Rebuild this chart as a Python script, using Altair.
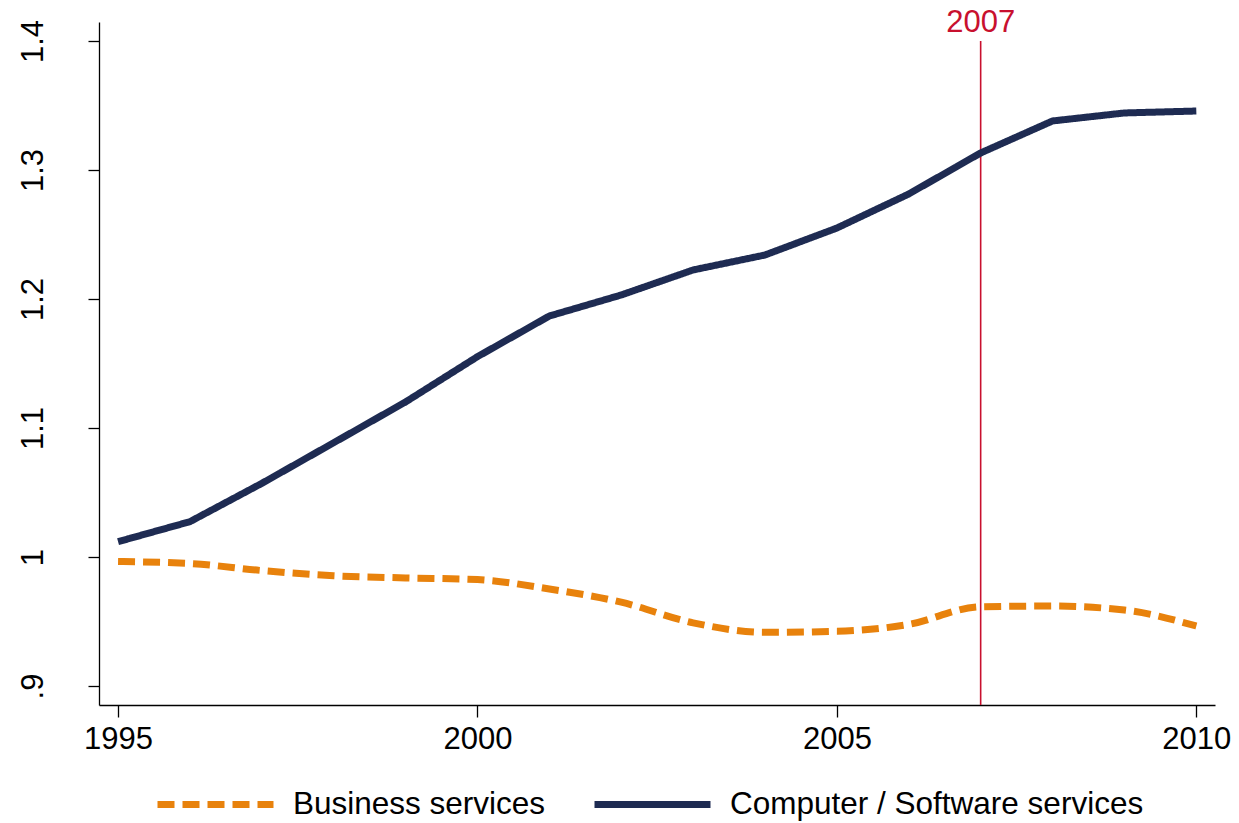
import altair as alt
import pandas as pd

years = [1995, 1996, 1997, 1998, 1999, 2000, 2001, 2002, 2003, 2004, 2005, 2006, 2007, 2008, 2009, 2010]
business = [0.9965, 0.9950, 0.9895, 0.9855, 0.9838, 0.9825, 0.9752, 0.9650, 0.9490, 0.9416, 0.9424, 0.9478, 0.9615, 0.9620, 0.9589, 0.9465]
computer = [1.0119, 1.0274, 1.0571, 1.0886, 1.1202, 1.1553, 1.1868, 1.2031, 1.2225, 1.2341, 1.2550, 1.2814, 1.3132, 1.3380, 1.3442, 1.3457]
series_names = ["Business services", "Computer / Software services"]
series_colors = ["#e8820c", "#1e2b52"]
x_ticks = [1995, 2000, 2005, 2010]
y_ticks = [0.9, 1.0, 1.1, 1.2, 1.3, 1.4]
event_year = [2007]

FONT = "Liberation Sans"

df = pd.DataFrame({
    "year": years * 2,
    "value": business + computer,
    "series": [series_names[0]] * len(years) + [series_names[1]] * len(years),
})
ev = pd.DataFrame({"year": event_year, "top": [1.4], "bottom": [0.8853], "label": [str(event_year[0])]})

xscale = alt.Scale(domain=[1994.735, 2010.26], nice=False, zero=False)
yscale = alt.Scale(domain=[0.8853, 1.4147], nice=False, zero=False)


def make_legend():
    return alt.Legend(
        title=None,
        orient="none",
        legendX=55,
        legendY=721,
        direction="horizontal",
        columns=2,
        columnPadding=34,
        symbolType="stroke",
        symbolSize=13456,
        symbolStrokeWidth=7,
        labelFontSize=31.5,
        labelFont=FONT,
        labelColor="#000000",
        labelOffset=16,
        padding=0,
        labelLimit=700,
    )


color = alt.Color(
    "series:N",
    scale=alt.Scale(domain=series_names, range=series_colors),
    legend=make_legend(),
)
dash = alt.StrokeDash(
    "series:N",
    scale=alt.Scale(domain=series_names, range=[[17, 8], [1, 0]]),
    legend=make_legend(),
)

x_enc = alt.X(
    "year:Q",
    scale=xscale,
    axis=alt.Axis(
        title=None,
        values=x_ticks,
        format="d",
        grid=False,
        tickSize=12,
        tickColor="#000000",
        domainColor="#000000",
        domainWidth=1.3,
        tickWidth=1.3,
        labelFontSize=31,
        labelFont=FONT,
        labelColor="#000000",
        labelPadding=7,
    ),
)
y_enc = alt.Y(
    "value:Q",
    scale=yscale,
    axis=alt.Axis(
        title=None,
        values=y_ticks,
        labelExpr="datum.value == 0.9 ? '.9' : datum.value == 1 ? '1' : format(datum.value, '.1f')",
        grid=False,
        tickSize=11,
        tickColor="#000000",
        domainColor="#000000",
        domainWidth=1.3,
        tickWidth=1.3,
        labelFontSize=31,
        labelFont=FONT,
        labelColor="#000000",
        labelAngle=270,
        labelAlign="center",
        labelBaseline="alphabetic",
        labelPadding=46,
    ),
)

base = alt.Chart(df)
biz = base.transform_filter(alt.datum.series == series_names[0]).mark_line(
    strokeWidth=7, interpolate="monotone", strokeCap="butt"
).encode(x=x_enc, y=y_enc, color=color, strokeDash=dash)
comp = base.transform_filter(alt.datum.series == series_names[1]).mark_line(
    strokeWidth=7, interpolate="linear", strokeCap="butt", strokeJoin="round"
).encode(x=x_enc, y=y_enc, color=color, strokeDash=dash)

rule = alt.Chart(ev).mark_rule(color="#c8102e", strokeWidth=1.6).encode(
    x=alt.X("year:Q", scale=xscale),
    y=alt.Y("top:Q", scale=yscale),
    y2="bottom:Q",
)
txt = alt.Chart(ev).mark_text(
    color="#c8102e", fontSize=31, font=FONT, baseline="alphabetic", align="center", dy=-9
).encode(
    x=alt.X("year:Q", scale=xscale),
    y=alt.Y("top:Q", scale=yscale),
    text="label:N",
)

chart = alt.layer(rule, biz, comp, txt).properties(
    width=1116,
    height=683,
    background="white",
    autosize=alt.AutoSizeParams(type="none"),
    padding={"left": 91, "top": 14, "right": 16, "bottom": 118},
).configure_view(strokeWidth=0, stroke="transparent")

chart.save("out.html", embed_options={"renderer": "svg", "actions": False})
